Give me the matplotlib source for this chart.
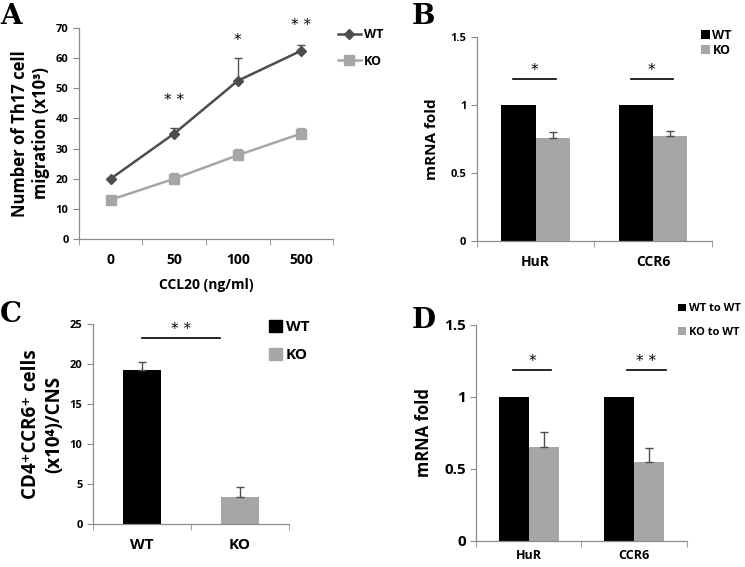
import matplotlib
matplotlib.use('Agg')
import matplotlib.pyplot as plt
import numpy as np

plt.rcParams['font.family'] = ['Open Sans', 'DejaVu Sans']
plt.rcParams['font.weight'] = 'bold'
plt.rcParams['axes.labelweight'] = 'bold'

DARK = '#4d4d4d'
LIGHT = '#a6a6a6'
SPINE = '#8c8c8c'

# Panel A: Th17 migration vs CCL20 dose
doses = ['0', '50', '100', '500']
wt_mig = [20, 35, 52.5, 62.5]
wt_mig_err = [0.3, 2.0, 7.5, 1.8]
ko_mig = [13, 20, 27.8, 35]
ko_mig_err = [0.3, 2.0, 2.2, 2.0]
sig_a = ['', '* *', '*', '* *']
sig_a_y = [None, 46, 66, 71]

# Panel B: mRNA fold
genes = ['HuR', 'CCR6']
wt_b = [1.0, 1.0]
ko_b = [0.76, 0.775]
ko_b_err = [0.04, 0.03]
sig_b = ['*', '*']

# Panel C: CD4+CCR6+ cells in CNS
groups_c = ['WT', 'KO']
cells_c = [19.3, 3.4]
cells_c_err = [1.0, 1.2]

# Panel D: mRNA fold after transfer
wt_d = [1.0, 1.0]
ko_d = [0.655, 0.55]
ko_d_err = [0.105, 0.095]
sig_d = ['*', '* *']


def style_axes(ax):
    for s in ['top', 'right']:
        ax.spines[s].set_visible(False)
    for s in ['left', 'bottom']:
        ax.spines[s].set_color(SPINE)
        ax.spines[s].set_linewidth(0.9)
    ax.tick_params(axis='y', colors=SPINE, labelcolor='black', length=4, labelsize=8)
    ax.tick_params(axis='x', length=0, labelsize=10, pad=10)


def category_ticks(ax, n):
    # Excel-style tick marks between categories
    ax.set_xlim(-0.5, n - 0.5)
    ax.set_xticks(range(n))
    ax.set_xticks(np.arange(-0.5, n, 1.0), minor=True)
    ax.tick_params(axis='x', which='minor', length=4, direction='out', colors=SPINE)


def sig_bar(ax, x0, x1, y, text, fs=11):
    ax.plot([x0, x1], [y, y], color='black', lw=1.2, clip_on=False)
    ax.text((x0 + x1) / 2, y + 0.005 * (ax.get_ylim()[1]), text, ha='center', va='bottom',
            fontsize=fs, fontweight='normal', family='DejaVu Sans')


fig = plt.figure(figsize=(7.45, 5.67), dpi=100)

# ---- A ----
axA = fig.add_axes([0.106, 0.5785, 0.341, 0.372])
x = np.arange(len(doses))
axA.errorbar(x, wt_mig, yerr=[np.zeros(4), wt_mig_err], fmt='none', ecolor=DARK,
             capsize=3, elinewidth=1)
axA.errorbar(x, ko_mig, yerr=[np.zeros(4), ko_mig_err], fmt='none', ecolor=LIGHT,
             capsize=3, elinewidth=1)
axA.plot(x, wt_mig, color=DARK, lw=1.8, marker='D', ms=5, label='WT')
axA.plot(x, ko_mig, color=LIGHT, lw=1.8, marker='s', ms=7, label='KO')
axA.set_ylim(0, 70)
axA.set_yticks(range(0, 71, 10))
category_ticks(axA, len(doses))
axA.set_xticklabels(doses)
style_axes(axA)
for xi, t, yy in zip(x, sig_a, sig_a_y):
    if t:
        axA.text(xi, yy, t, ha='center', va='center', fontsize=11,
                 family='DejaVu Sans', fontweight='normal', clip_on=False)
axA.set_xlabel('CCL20 (ng/ml)', fontsize=10, labelpad=8)
axA.set_ylabel('Number of Th17 cell\nmigration (x10³)', fontsize=12, labelpad=4)
axA.legend(loc='upper left', bbox_to_anchor=(1.02, 1.0), frameon=False, fontsize=9,
           handlelength=1.8, handletextpad=0.3, labelspacing=1.1, borderpad=0, borderaxespad=0)

# ---- B ----
axB = fig.add_axes([0.640, 0.575, 0.3154, 0.3598])
w = 0.29
xb = np.arange(len(genes))
axB.bar(xb - w / 2, wt_b, w, color='black', label='WT')
axB.bar(xb + w / 2, ko_b, w, color=LIGHT, label='KO',
        yerr=[np.zeros(2), ko_b_err], capsize=3, error_kw=dict(elinewidth=1, ecolor=DARK))
axB.set_ylim(0, 1.5)
axB.set_yticks([0, 0.5, 1, 1.5])
axB.set_yticklabels(['0', '0.5', '1', '1.5'])
category_ticks(axB, len(genes))
axB.set_xticklabels(genes)
style_axes(axB)
for xi, t in zip(xb, sig_b):
    sig_bar(axB, xi - 0.19, xi + 0.17, 1.19, t)
axB.set_ylabel('mRNA fold', fontsize=11, labelpad=8)
axB.legend(loc='upper left', bbox_to_anchor=(0.955, 1.04), frameon=False, fontsize=9,
           handlelength=0.7, handleheight=0.7, handletextpad=0.2, labelspacing=0.15,
           borderpad=0, borderaxespad=0)

# ---- C ----
axC = fig.add_axes([0.1248, 0.0758, 0.263, 0.3527])
w = 0.39
xc = np.arange(len(groups_c))
axC.bar(xc, cells_c, w, color=['black', LIGHT],
        yerr=[np.zeros(2), cells_c_err], capsize=3, error_kw=dict(elinewidth=1, ecolor=DARK))
axC.set_ylim(0, 25)
axC.set_yticks(range(0, 26, 5))
category_ticks(axC, len(groups_c))
axC.set_xticklabels(groups_c)
style_axes(axC)
axC.tick_params(axis='x', labelsize=11)
sig_bar(axC, 0.0, 0.8, 23.25, '* *')
axC.set_ylabel('CD4⁺CCR6⁺ cells\n(x10⁴)/CNS', fontsize=13.5, labelpad=4)
hC = [plt.Rectangle((0, 0), 1, 1, color='black'), plt.Rectangle((0, 0), 1, 1, color=LIGHT)]
axC.legend(hC, groups_c, loc='upper left', bbox_to_anchor=(0.9, 1.02), frameon=False,
           fontsize=11, handlelength=0.8, handleheight=0.8, handletextpad=0.3, labelspacing=0.9,
           borderpad=0, borderaxespad=0)

# ---- D ----
axD = fig.add_axes([0.639, 0.0459, 0.283, 0.381])
w = 0.285
sig_d_x0 = [-0.15, -0.07]
sig_d_x1 = [0.21, 0.30]
axD.bar(xb - w / 2, wt_d, w, color='black', label='WT to WT')
axD.bar(xb + w / 2, ko_d, w, color=LIGHT, label='KO to WT',
        yerr=[np.zeros(2), ko_d_err], capsize=3, error_kw=dict(elinewidth=1, ecolor=DARK))
axD.set_ylim(0, 1.5)
axD.set_yticks([0, 0.5, 1, 1.5])
axD.set_yticklabels(['0', '0.5', '1', '1.5'])
category_ticks(axD, len(genes))
axD.set_xticklabels(genes)
style_axes(axD)
axD.tick_params(axis='y', labelsize=11)
axD.tick_params(axis='x', labelsize=9, pad=6)
for xi, t, a, b in zip(xb, sig_d, sig_d_x0, sig_d_x1):
    sig_bar(axD, xi + a, xi + b, 1.19, t)
axD.set_ylabel('mRNA fold', fontsize=12, labelpad=8)
axD.legend(loc='upper left', bbox_to_anchor=(0.96, 1.1), frameon=False, fontsize=8,
           handlelength=0.7, handleheight=0.7, handletextpad=0.25, labelspacing=1.1,
           borderpad=0, borderaxespad=0)

# panel letters
for lbl, xx, yy in [('A', 0.0, 0.995), ('B', 0.553, 0.995), ('C', 0.0, 0.47), ('D', 0.553, 0.458)]:
    fig.text(xx, yy, lbl, fontsize=20, fontweight='bold', family='DejaVu Serif',
             ha='left', va='top')

fig.savefig('out.png', dpi=100)
